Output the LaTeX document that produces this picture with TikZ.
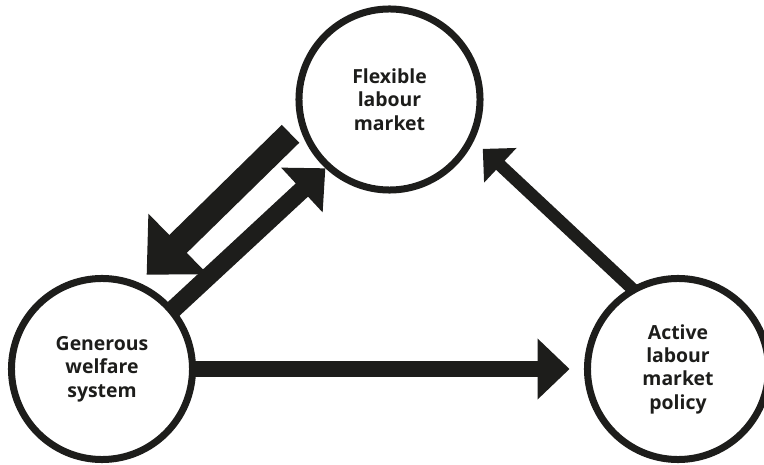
\documentclass[tikz,border=0pt]{standalone}
\usepackage{fontspec}
\setsansfont{Open Sans}
\usetikzlibrary{arrows.meta, backgrounds}
\definecolor{cink}{HTML}{1D1D1B}
\tikzset{
  every picture/.style={font=\sffamily\bfseries},
  ring/.style={draw=cink, fill=white, circle, line width=0.175cm, minimum size=4.525cm, align=center, text=cink, font=\sffamily\bfseries\fontsize{13.8}{16.6}\selectfont},
  arrow/.style={-{Triangle[length=0.8cm, width=1.475cm]}, draw=cink, line width=#1},
  arrow/.default=0.4cm,
  bigarrow/.style={-{Triangle[length=1.1cm, width=2.05cm]}, draw=cink, line width=0.625cm},
  smallarrow/.style={-{Triangle[length=0.6cm, width=1.15cm]}, draw=cink, line width=0.31cm},
}

\begin{document}
\begin{tikzpicture}[x=0.025cm, y=-0.025cm]
  \useasboundingbox (0,0) rectangle (764,465);
  % the three circles
  \node[ring] (flex) at (389.5,99.5) {Flexible\\labour\\market};
  \node[ring] (gen) at (102,369) {Generous\\welfare\\system};
  \node[ring] (act) at (678,369) {Active\\labour\\market\\policy};
  % arrows, behind the circles
  \begin{scope}[on background layer]
    \draw[bigarrow, shorten <=0.3cm, shorten >=0.275cm] (flex.196) -- (gen.67);
    \draw[arrow=0.45cm, shorten <=-0.3cm] (gen.40) -- (flex.227);
    \draw[arrow=0.375cm, shorten <=-0.3cm, shorten >=0.36cm] (gen.east) -- (act.west);
    \draw[smallarrow, shorten <=-0.3cm, shorten >=0.3cm] (act.120) -- (flex.334);
  \end{scope}
\end{tikzpicture}
\end{document}
